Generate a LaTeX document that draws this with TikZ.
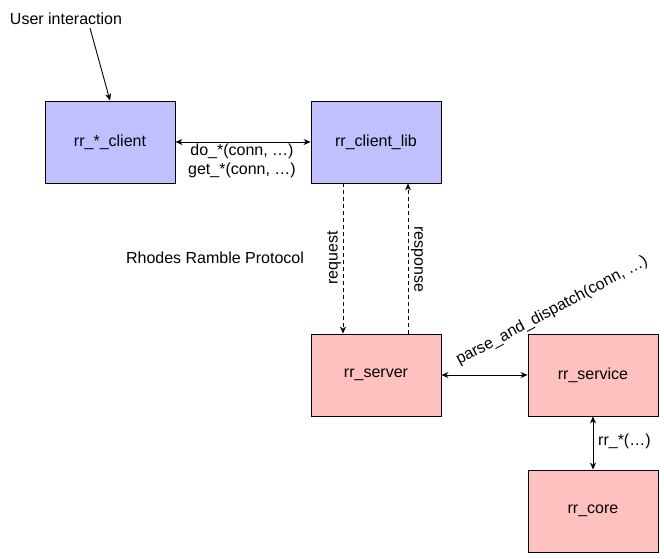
\documentclass[tikz,border=0pt]{standalone}
\usepackage{fontspec}
\setmainfont{Liberation Sans}
\usetikzlibrary{arrows.meta}
\definecolor{boxblue}{RGB}{192,192,255}
\definecolor{boxpink}{RGB}{255,192,192}
\begin{document}
\begin{tikzpicture}[x=1pt,y=-1pt,
  font=\fontsize{16}{18.5}\selectfont,
  comp/.style={draw=black,line width=0.9pt,minimum width=130pt,minimum height=82pt,inner sep=0pt},
  bluebox/.style={comp,fill=boxblue},
  pinkbox/.style={comp,fill=boxpink},
  conn/.style={line width=0.9pt,-{Stealth[length=7pt,width=6pt]}},
  biconn/.style={line width=0.9pt,{Stealth[length=7pt,width=6pt]}-{Stealth[length=7pt,width=6pt]}},
  dconn/.style={conn,dash pattern=on 4pt off 3pt},
  lbl/.style={inner sep=0pt}]
\useasboundingbox (0,0) rectangle (664,558);
\fill[white] (0,0) rectangle (664,558);

\node[bluebox] (client) at (110,142) {rr\_*\_client};
\node[bluebox] (lib) at (376,142) {rr\_client\_lib};
\node[pinkbox] (server) at (376,375) {rr\_server};
\node[pinkbox] (service) at (593,375) {rr\_service};
\node[pinkbox] (core) at (593,511) {rr\_core};

\node[lbl] (user) at (66,19) {User interaction};
\coordinate (userstart) at (90,28);
\draw[conn] (userstart) -- (client.north);

\draw[biconn] (client.east) -- (lib.west);
\node[lbl,align=center] (dolbl) at (242,161) {do\_*(conn, …)\\get\_*(conn, …)};

\draw[dconn] ([xshift=-33pt]lib.south) -- ([xshift=-33pt]server.north);
\draw[dconn] ([xshift=32pt]server.north) -- ([xshift=32pt]lib.south);
\node[lbl,rotate=90] (req) at (334,258) {request};
\node[lbl,rotate=-90] (resp) at (417,259) {response};

\node[lbl] (proto) at (215,258) {Rhodes Ramble Protocol};

\draw[biconn] (server.east) -- (service.west);
\node[lbl,rotate=28] (pd) at (552,311) {parse\_and\_dispatch(conn, …)};

\draw[biconn] (service.south) -- (core.north);
\node[lbl,anchor=west] (rrlbl) at (598,441) {rr\_*(…)};
\end{tikzpicture}
\end{document}
